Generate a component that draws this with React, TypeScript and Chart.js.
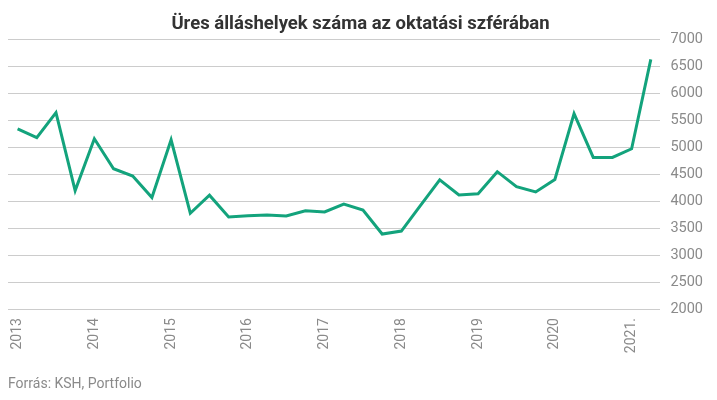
import React, { useEffect, useRef } from "react";
import { Chart, registerables } from "chart.js";

Chart.register(...registerables);

const quarterLabels: string[] = [
  "2013", "", "", "",
  "2014", "", "", "",
  "2015", "", "", "",
  "2016", "", "", "",
  "2017", "", "", "",
  "2018", "", "", "",
  "2019", "", "", "",
  "2020", "", "", "",
  "2021.", "",
];

const vacancies: number[] = [
  5340, 5175, 5640, 4195,
  5155, 4600, 4465, 4065,
  5135, 3775, 4110, 3705,
  3730, 3742, 3725, 3820,
  3800, 3945, 3835, 3390,
  3445, 3920, 4395, 4115,
  4135, 4545, 4268, 4170,
  4400, 5620, 4810, 4810,
  4970, 6625,
];

const yTicks = { min: 2000, max: 7000, step: 500 };

const titleText = "Üres álláshelyek száma az oktatási szférában";
const sourceText = "Forrás: KSH, Portfolio";

export default function App() {
  const canvasRef = useRef<HTMLCanvasElement | null>(null);

  useEffect(() => {
    if (!canvasRef.current) return;
    const chart = new Chart(canvasRef.current, {
      type: "line",
      data: {
        labels: quarterLabels,
        datasets: [
          {
            data: vacancies,
            borderColor: "#13a37c",
            backgroundColor: "#13a37c",
            borderWidth: 3,
            pointRadius: 0,
            tension: 0,
            fill: false,
          },
        ],
      },
      options: {
        animation: false,
        responsive: false,
        maintainAspectRatio: false,
        layout: { padding: { top: 10, left: 8, right: 4, bottom: 7 } },
        plugins: {
          legend: { display: false },
          tooltip: { enabled: false },
          title: {
            display: true,
            text: titleText,
            color: "#333333",
            font: { family: "Roboto", size: 18.5, weight: "bold" },
            padding: { top: 3, bottom: 4 },
          },
          subtitle: {
            display: true,
            text: sourceText,
            position: "bottom",
            align: "start",
            color: "#8a8a8a",
            font: { family: "Roboto", size: 14 },
            padding: { top: 14, bottom: 0 },
          },
        },
        scales: {
          x: {
            offset: true,
            grid: { display: false, drawTicks: false },
            border: { display: false },
            ticks: {
              autoSkip: false,
              maxRotation: 90,
              minRotation: 90,
              padding: 9,
              color: "#8a8a8a",
              font: { family: "Roboto", size: 14 },
            },
          },
          y: {
            position: "right",
            min: yTicks.min,
            max: yTicks.max,
            grid: { color: "#cccccc", lineWidth: 1, drawTicks: false },
            border: { display: false },
            ticks: {
              stepSize: yTicks.step,
              padding: 10,
              color: "#8a8a8a",
              font: { family: "Roboto", size: 14.5 },
              callback: (v: any) => String(v),
            },
          },
        },
      },
    });
    return () => chart.destroy();
  }, []);

  return (
    <div style={{ position: "fixed", left: 0, top: 0, width: 717, height: 400, background: "#fff" }}>
      <canvas ref={canvasRef} width={717} height={400} />
    </div>
  );
}
